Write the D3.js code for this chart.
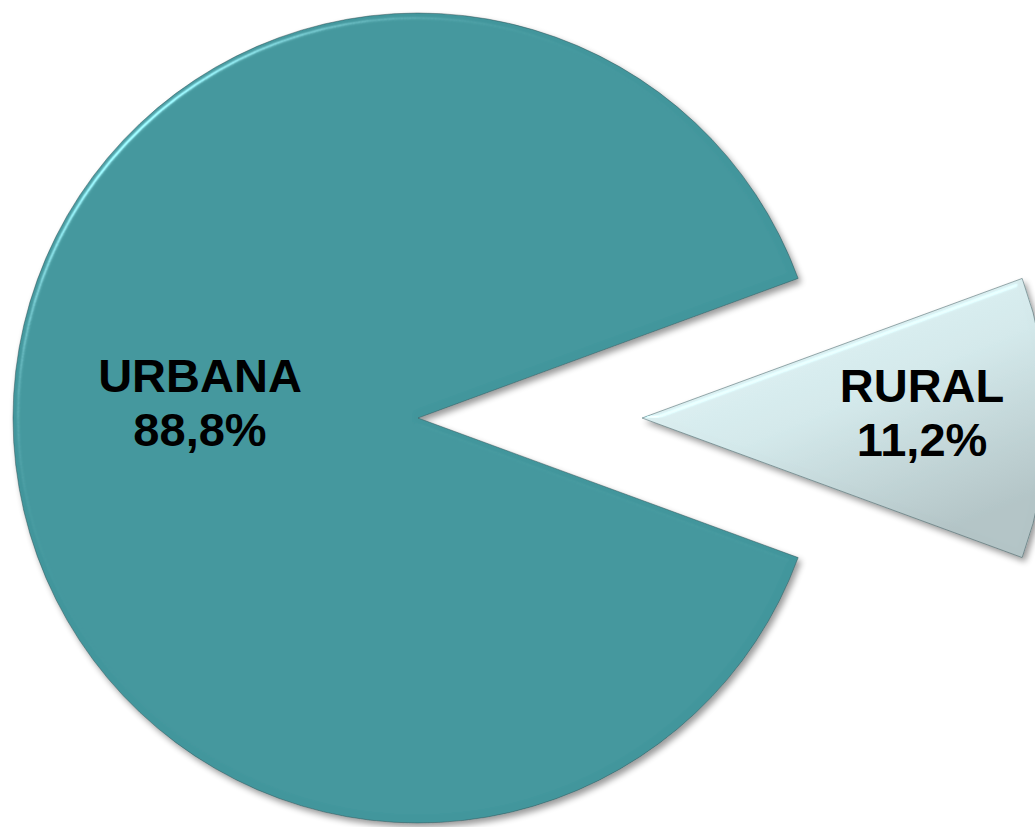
<!DOCTYPE html><head><meta charset = "utf-8">
<title>poblacion urbana rural</title>
<style type = "text/css">
* {
  box-sizing: border-box;
}
body {
  margin: 0;
  background: white;
}
div.io-chart {
  position: relative;
  width: 1035px;
  height: 827px;
  overflow: hidden;
}
text.label {
  font-family: "Liberation Sans", Arial, sans-serif;
  font-weight: bold;
  font-size: 47px;
  fill: black;
}
</style>
<script type="text/javascript" src="https://cdn.jsdelivr.net/npm/d3@7/dist/d3.min.js"></script>
</head><body>
<div class="io-chart"></div>

<script type="text/javascript">

// data
var categories = ["URBANA", "RURAL"];
var values = [88.8, 11.2];
var valueLabels = ["88,8%", "11,2%"];
var fills = ["#43969c", "url(#ruralFill)"];
var explode = [0, 224];

var width = 1035, height = 827;
var cx = 418, cy = 418, radius = 405;

var svg = d3.select("div.io-chart").append("svg")
	.attr("width", width)
	.attr("height", height);

var defs = svg.append("defs");

// light gradient for the pulled out slice
var grad = defs.append("linearGradient").attr("id", "ruralFill")
	.attr("x1", "0").attr("y1", "0").attr("x2", "0.6").attr("y2", "1");
grad.append("stop").attr("offset", "0%").attr("stop-color", "#eafafc");
grad.append("stop").attr("offset", "55%").attr("stop-color", "#d3e8ea");
grad.append("stop").attr("offset", "100%").attr("stop-color", "#b3c4c6");

// bevel + soft shadow
var f = defs.append("filter").attr("id", "bevel")
	.attr("x", "-10%").attr("y", "-10%").attr("width", "120%").attr("height", "120%");
f.append("feGaussianBlur").attr("in", "SourceAlpha").attr("stdDeviation", 3).attr("result", "blur");
f.append("feOffset").attr("in", "blur").attr("dx", 3).attr("dy", 4).attr("result", "offBlur");
f.append("feComponentTransfer").attr("in", "offBlur").attr("result", "shadow")
	.append("feFuncA").attr("type", "linear").attr("slope", 0.4);
f.append("feSpecularLighting").attr("in", "blur").attr("surfaceScale", 5)
	.attr("specularConstant", 0.8).attr("specularExponent", 40)
	.attr("lighting-color", "#a8f3f8").attr("result", "spec")
	.append("feDistantLight").attr("azimuth", 225).attr("elevation", 35);
f.append("feComposite").attr("in", "spec").attr("in2", "SourceAlpha")
	.attr("operator", "in").attr("result", "specIn");
f.append("feComposite").attr("in", "SourceGraphic").attr("in2", "specIn")
	.attr("operator", "arithmetic").attr("k1", 0).attr("k2", 1).attr("k3", 1).attr("k4", 0)
	.attr("result", "lit");
var merge = f.append("feMerge");
merge.append("feMergeNode").attr("in", "shadow");
merge.append("feMergeNode").attr("in", "lit");

// rural slice centred on 3 o'clock
var ruralSpan = values[1] / d3.sum(values) * 2 * Math.PI;
var pie = d3.pie().sort(null)
	.startAngle(Math.PI / 2 + ruralSpan / 2)
	.endAngle(Math.PI / 2 + ruralSpan / 2 + 2 * Math.PI);
var arcs = pie(values);

var arc = d3.arc().innerRadius(0).outerRadius(radius);

var g = svg.append("g").attr("transform", "translate(" + cx + "," + cy + ")");

function offset(d, i) {
	var a = (d.startAngle + d.endAngle) / 2;
	return [Math.sin(a) * explode[i], -Math.cos(a) * explode[i]];
}

g.selectAll("path.slice")
	.data(arcs)
	.join("path").attr("class", "slice")
	.attr("transform", (d, i) => "translate(" + offset(d, i).join(",") + ")")
	.attr("d", arc)
	.attr("fill", (d, i) => fills[i])
	.attr("stroke", "rgba(40,70,75,0.45)")
	.attr("stroke-width", 1)
	.attr("filter", "url(#bevel)");

// label positions inside each slice
var labelRadius = [218, 280];
var labelShift = [-26, -16];
var labels = g.selectAll("g.lab")
	.data(arcs)
	.join("g").attr("class", "lab")
	.attr("transform", function(d, i) {
		var a = (d.startAngle + d.endAngle) / 2;
		var o = offset(d, i);
		var r = labelRadius[i];
		return "translate(" + (o[0] + Math.sin(a) * r) + "," + (o[1] - Math.cos(a) * r + labelShift[i]) + ")";
	});
labels.append("text").attr("class", "label")
	.attr("text-anchor", "middle")
	.attr("y", 0)
	.text((d, i) => categories[i]);
labels.append("text").attr("class", "label")
	.attr("text-anchor", "middle")
	.attr("y", 54)
	.text((d, i) => valueLabels[i]);

</script>
</body></html>
